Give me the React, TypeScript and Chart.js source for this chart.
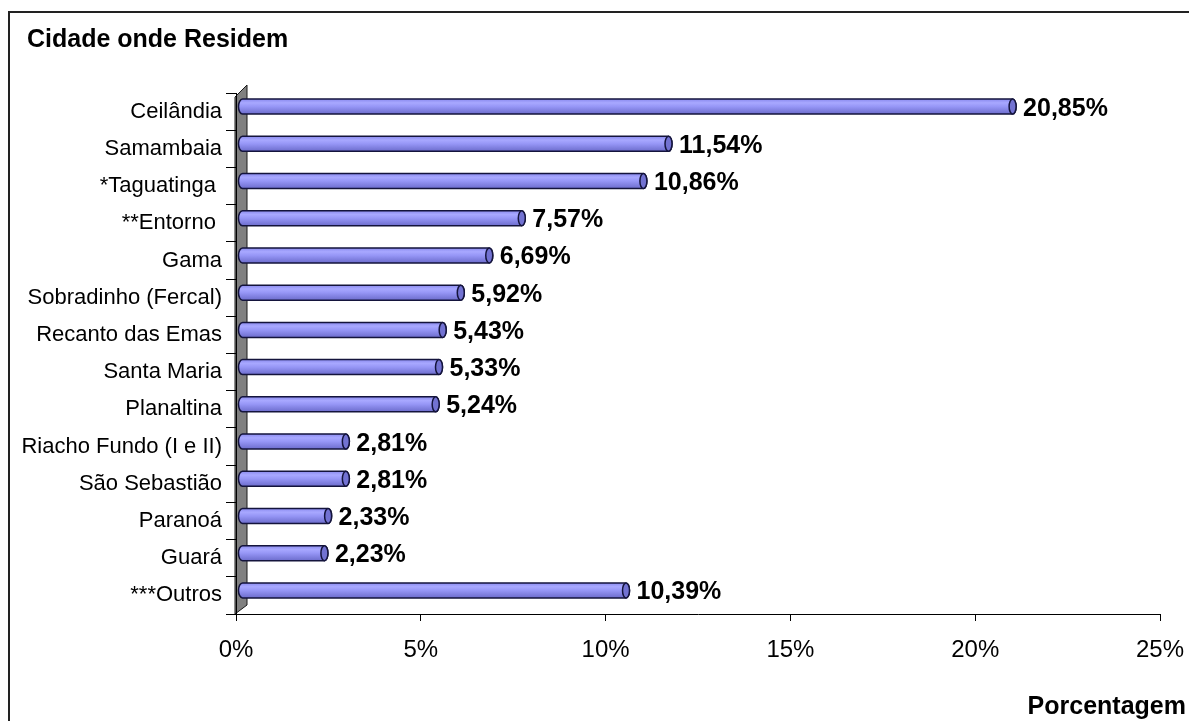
import React, { useEffect, useRef } from "react";
import { Chart, registerables } from "chart.js";

Chart.register(...registerables);

const categories = [
  "Ceilândia",
  "Samambaia",
  "*Taguatinga ",
  "**Entorno ",
  "Gama",
  "Sobradinho (Fercal)",
  "Recanto das Emas",
  "Santa Maria",
  "Planaltina",
  "Riacho Fundo (I e II)",
  "São Sebastião",
  "Paranoá",
  "Guará",
  "***Outros",
];

const percentages = [20.85, 11.54, 10.86, 7.57, 6.69, 5.92, 5.43, 5.33, 5.24, 2.81, 2.81, 2.33, 2.23, 10.39];

const xTickValues = [0, 5, 10, 15, 20, 25];

const chartTitle = "Cidade onde Residem";
const xAxisTitle = "Porcentagem";

const FONT = "'Liberation Sans', Arial, sans-serif";

const W = 1181;
const H = 713;

const cylinderPlugin = {
  id: "cylinder3d",
  beforeDraw(chart: any) {
    const ctx = chart.ctx;
    const a = chart.chartArea;
    ctx.save();
    ctx.fillStyle = "#ffffff";
    ctx.fillRect(0, 0, chart.width, chart.height);
    // outer border
    ctx.strokeStyle = "#222222";
    ctx.lineWidth = 2;
    ctx.beginPath();
    ctx.moveTo(1, H + 5);
    ctx.lineTo(1, 4);
    ctx.lineTo(W + 5, 4);
    ctx.stroke();
    // side wall
    const d = 12;
    const fx = a.left - 1;
    ctx.beginPath();
    ctx.moveTo(fx, a.top + 4);
    ctx.lineTo(fx + d, a.top - 8);
    ctx.lineTo(fx + d, a.bottom - 9);
    ctx.lineTo(fx, a.bottom);
    ctx.closePath();
    ctx.fillStyle = "#808080";
    ctx.fill();
    ctx.strokeStyle = "#1a1a1a";
    ctx.lineWidth = 1;
    ctx.stroke();
    // titles
    ctx.fillStyle = "#000000";
    ctx.font = `bold 25px ${FONT}`;
    ctx.textAlign = "left";
    ctx.textBaseline = "alphabetic";
    ctx.fillText(chartTitle, 19, 39);
    ctx.textAlign = "right";
    ctx.fillText(xAxisTitle, 1178, 706);
    ctx.restore();
  },
  afterDatasetsDraw(chart: any) {
    const ctx = chart.ctx;
    const meta = chart.getDatasetMeta(0);
    const ds = chart.data.datasets[0];
    ctx.save();
    meta.data.forEach((el: any, i: number) => {
      const p = el.getProps(["x", "y", "base", "height"], true);
      const h = 15;
      const yc = p.y - 5;
      const x0 = p.base + 6;
      const x1 = p.x + 6;
      const rl = 4;
      const rc = 3.5;
      const g = ctx.createLinearGradient(0, yc - h / 2, 0, yc + h / 2);
      g.addColorStop(0, "#8a8aee");
      g.addColorStop(0.25, "#a8a8ff");
      g.addColorStop(0.5, "#9696f6");
      g.addColorStop(1, "#6c6ccc");
      ctx.beginPath();
      ctx.moveTo(x1, yc - h / 2);
      ctx.lineTo(x0, yc - h / 2);
      ctx.ellipse(x0, yc, rl, h / 2, 0, -Math.PI / 2, Math.PI / 2, true);
      ctx.lineTo(x1, yc + h / 2);
      ctx.ellipse(x1, yc, rc, h / 2, 0, Math.PI / 2, -Math.PI / 2, true);
      ctx.closePath();
      ctx.fillStyle = g;
      ctx.fill();
      ctx.strokeStyle = "#14143c";
      ctx.lineWidth = 1.5;
      ctx.stroke();
      ctx.beginPath();
      ctx.ellipse(x1, yc, rc, h / 2, 0, 0, Math.PI * 2);
      ctx.fillStyle = "#7272d2";
      ctx.fill();
      ctx.stroke();
      // label
      const v = ds.data[i] as number;
      ctx.fillStyle = "#000000";
      ctx.font = `bold 25px ${FONT}`;
      ctx.textAlign = "left";
      ctx.textBaseline = "alphabetic";
      ctx.fillText(v.toFixed(2).replace(".", ",") + "%", x1 + rc + 7, yc + 9);
    });
    ctx.restore();
  },
};

export default function App() {
  const ref = useRef<HTMLCanvasElement | null>(null);
  useEffect(() => {
    if (!ref.current) return;
    const chart = new Chart(ref.current, {
      type: "bar",
      data: {
        labels: categories,
        datasets: [
          {
            data: percentages,
            backgroundColor: "rgba(0,0,0,0)",
            borderWidth: 0,
            barPercentage: 0.4,
            categoryPercentage: 1,
          },
        ],
      },
      options: {
        indexAxis: "y",
        responsive: false,
        animation: false,
        events: [],
        layout: { padding: { top: 85, right: 29, left: 0, bottom: 0 } },
        plugins: {
          legend: { display: false },
          tooltip: { enabled: false },
          title: { display: false },
        },
        scales: {
          x: {
            min: 0,
            max: 25,
            afterFit: (s: any) => {
              s.height = 107;
              s.paddingLeft = 0;
              s.paddingRight = 0;
            },
            afterBuildTicks: (s: any) => {
              s.ticks = xTickValues.map((v) => ({ value: v }));
            },
            ticks: {
              callback: (v: any) => v + "%",
              color: "#000",
              font: { family: FONT, size: 24 },
              padding: 15,
              maxRotation: 0,
            },
            grid: { drawOnChartArea: false, tickLength: 7, color: "#000", tickColor: "#000" },
            border: { display: true, color: "#000", width: 1 },
          },
          y: {
            afterFit: (s: any) => {
              s.width = 228;
              s.paddingTop = 0;
              s.paddingBottom = 0;
            },
            ticks: {
              color: "#000",
              font: { family: FONT, size: 22 },
              padding: 4,
              autoSkip: false,
            },
            grid: { drawOnChartArea: false, tickLength: 10, color: "#000", tickColor: "#000", offset: true },
            border: { display: true, color: "#000", width: 1 },
          },
        },
      },
      plugins: [cylinderPlugin],
    });
    return () => chart.destroy();
  }, []);
  return (
    <div style={{ position: "absolute", left: 8, top: 8, width: W, height: H }}>
      <canvas ref={ref} width={W} height={H} style={{ display: "block", width: W, height: H }} />
    </div>
  );
}
